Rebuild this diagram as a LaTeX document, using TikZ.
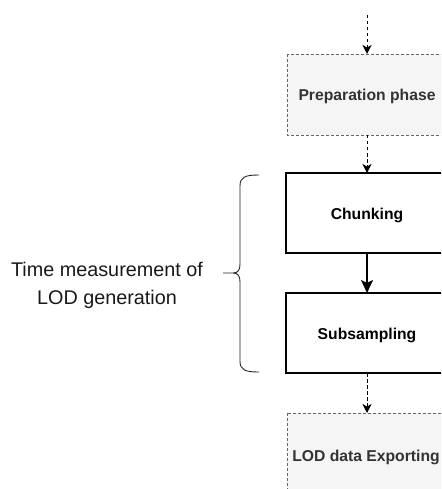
\documentclass[tikz,border=0pt]{standalone}
\usepackage{fontspec}
\setmainfont{Liberation Sans}
\usetikzlibrary{arrows.meta}
\definecolor{phasefill}{HTML}{F5F5F5}
\definecolor{phaseline}{HTML}{666666}
\definecolor{phasetext}{HTML}{333333}
\tikzset{
  boxfont/.style={font=\fontsize{15.7}{18}\selectfont\bfseries},
  optbox/.style={draw=phaseline, fill=phasefill, line width=0.8pt,
    dash pattern=on 3pt off 2pt},
  optlabel/.style={boxfont, text=phasetext},
  corebox/.style={draw=black, fill=white, line width=2pt},
  corelabel/.style={boxfont, text=black},
  dashflow/.style={-{Stealth[length=9pt,width=9pt,inset=2.5pt]}, line width=1pt, dash pattern=on 3.5pt off 2.5pt},
  coreflow/.style={-{Stealth[length=13pt,width=12pt,inset=3pt]}, line width=2pt},
  bracestroke/.style={draw=black!85, line width=0.9pt},
}
\begin{document}
\begin{tikzpicture}[x=1pt, y=-1pt]
  \useasboundingbox (0,0) rectangle (441,489);
  \clip (0,0) rectangle (441,489);
  % process boxes (they run past the right edge of the page)
  \path[optbox] (287,54) rectangle (447,135);
  \node[optlabel] (prep) at (367,96) {Preparation phase};
  \path[corebox] (286,173) rectangle (447,253);
  \node[corelabel] (chunk) at (367,215) {Chunking};
  \path[corebox] (286,293) rectangle (447,373);
  \node[corelabel] (subs) at (367,335) {Subsampling};
  \path[optbox] (287,413) rectangle (447,530);
  \node[optlabel] (lod) at (366,457) {LOD data Exporting};
  % anchors on the box edges
  \coordinate (start) at (367,15);
  \coordinate (prepT) at (367,54);
  \coordinate (prepB) at (367,135);
  \coordinate (chunkT) at (367,173);
  \coordinate (chunkB) at (367,253);
  \coordinate (subsT) at (367,293);
  \coordinate (subsB) at (367,373);
  \coordinate (lodT) at (367,413);
  % connectors
  \draw[dashflow] (start) -- (prepT);
  \draw[dashflow] (prepB) -- (chunkT);
  \draw[coreflow] (chunkB) -- (subsT);
  \draw[dashflow] (subsB) -- (lodT);
  % curly brace grouping the timed steps
  \coordinate (tip) at (223,273);
  \draw[bracestroke] (259,175) .. controls (245,175) and (240,177) .. (240,186)
    -- (240,264) .. controls (240,270) and (238,273) .. (233,273) -- (tip)
    -- (233,273) .. controls (238,273) and (240,276) .. (240,282)
    -- (240,361) .. controls (240,370) and (245,372) .. (259,372);
  \node[align=center, font=\fontsize{19.8}{28}\selectfont, text=black!90] (label) at (107,285)
    {Time measurement of\\LOD generation};
\end{tikzpicture}
\end{document}
